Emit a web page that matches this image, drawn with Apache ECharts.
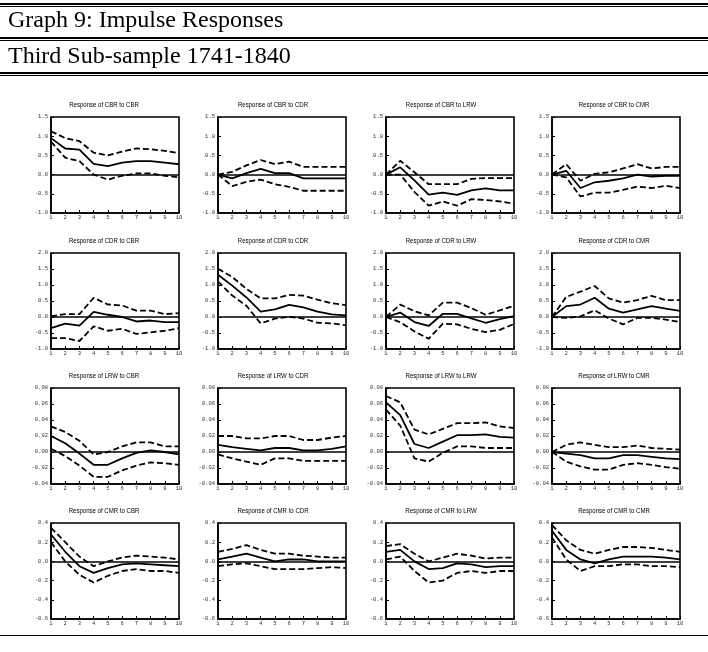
<!DOCTYPE html>
<html>
<head>
<meta charset="utf-8">
<script src="https://cdn.jsdelivr.net/npm/echarts@6/dist/echarts.min.js"></script>
<style>
  html, body { margin: 0; padding: 0; background: #fff; }
  #chart { width: 708px; height: 652px; }
</style>
</head>
<body>
<div id="chart"></div>
<script>
// Forecast horizon (periods after the shock)
const steps = ['1', '2', '3', '4', '5', '6', '7', '8', '9', '10'];
const variables = ['CBR', 'CDR', 'LRW', 'CMR'];

// Response of CBR
const resp_CBR_CBR  = [0.95, 0.68, 0.65, 0.28, 0.22, 0.31, 0.35, 0.35, 0.31, 0.27];
const upper_CBR_CBR = [1.13, 0.95, 0.87, 0.57, 0.50, 0.60, 0.68, 0.66, 0.62, 0.56];
const lower_CBR_CBR = [0.86, 0.44, 0.35, 0.00, -0.13, -0.03, 0.03, 0.03, -0.03, -0.07];

const resp_CBR_CDR  = [0, -0.10, 0.04, 0.15, 0.04, 0.04, -0.10, -0.10, -0.10, -0.10];
const upper_CBR_CDR = [0, 0.07, 0.24, 0.38, 0.27, 0.34, 0.20, 0.20, 0.20, 0.20];
const lower_CBR_CDR = [0, -0.30, -0.19, -0.13, -0.25, -0.32, -0.42, -0.42, -0.42, -0.42];

const resp_CBR_LRW  = [0, 0.19, -0.15, -0.52, -0.47, -0.53, -0.41, -0.36, -0.41, -0.41];
const upper_CBR_LRW = [0, 0.36, 0.06, -0.25, -0.25, -0.25, -0.11, -0.09, -0.09, -0.09];
const lower_CBR_LRW = [0, 0.00, -0.45, -0.81, -0.70, -0.81, -0.64, -0.66, -0.70, -0.76];

const resp_CBR_CMR  = [0, 0.10, -0.35, -0.20, -0.16, -0.10, 0.00, -0.05, -0.03, -0.03];
const upper_CBR_CMR = [0, 0.27, -0.16, 0.02, 0.06, 0.16, 0.27, 0.16, 0.20, 0.20];
const lower_CBR_CMR = [0, -0.07, -0.57, -0.47, -0.47, -0.40, -0.31, -0.35, -0.29, -0.35];

// Response of CDR
const resp_CDR_CBR  = [-0.35, -0.21, -0.27, 0.16, 0.07, 0.00, -0.14, -0.11, -0.16, -0.16];
const upper_CDR_CBR = [0.02, 0.09, 0.09, 0.60, 0.39, 0.36, 0.20, 0.20, 0.09, 0.12];
const lower_CDR_CBR = [-0.66, -0.66, -0.75, -0.29, -0.43, -0.37, -0.53, -0.48, -0.43, -0.35];

const resp_CDR_CDR  = [1.32, 0.98, 0.61, 0.17, 0.24, 0.38, 0.30, 0.17, 0.08, 0.05];
const upper_CDR_CDR = [1.51, 1.25, 0.88, 0.58, 0.58, 0.69, 0.67, 0.54, 0.43, 0.37];
const lower_CDR_CDR = [1.11, 0.67, 0.35, -0.20, -0.05, 0.01, -0.05, -0.18, -0.20, -0.26];

const resp_CDR_LRW  = [0, 0.14, -0.16, -0.28, 0.10, 0.10, -0.04, -0.18, -0.07, 0.03];
const upper_CDR_LRW = [0, 0.39, 0.18, 0.05, 0.45, 0.45, 0.28, 0.07, 0.21, 0.35];
const lower_CDR_LRW = [0, -0.16, -0.45, -0.68, -0.21, -0.23, -0.37, -0.47, -0.40, -0.22];

const resp_CDR_CMR  = [0, 0.34, 0.39, 0.60, 0.26, 0.14, 0.24, 0.34, 0.26, 0.19];
const upper_CDR_CMR = [0, 0.63, 0.79, 0.97, 0.58, 0.45, 0.53, 0.66, 0.53, 0.53];
const lower_CDR_CMR = [0, -0.03, 0.02, 0.21, -0.05, -0.23, -0.03, -0.03, -0.08, -0.16];

// Response of LRW
const resp_LRW_CBR  = [0.020, 0.011, -0.002, -0.016, -0.016, -0.008, -0.001, 0.002, 0.000, -0.003];
const upper_LRW_CBR = [0.032, 0.025, 0.014, -0.003, 0.000, 0.007, 0.012, 0.012, 0.007, 0.007];
const lower_LRW_CBR = [0.004, -0.005, -0.017, -0.031, -0.031, -0.023, -0.017, -0.013, -0.014, -0.016];

const resp_LRW_CDR  = [0.009, 0.006, 0.004, 0.002, 0.005, 0.005, 0.002, 0.002, 0.004, 0.007];
const upper_LRW_CDR = [0.020, 0.020, 0.017, 0.017, 0.020, 0.020, 0.015, 0.015, 0.018, 0.020];
const lower_LRW_CDR = [-0.003, -0.008, -0.012, -0.016, -0.008, -0.008, -0.011, -0.011, -0.011, -0.011];

const resp_LRW_LRW  = [0.062, 0.046, 0.010, 0.005, 0.013, 0.021, 0.021, 0.022, 0.019, 0.018];
const upper_LRW_LRW = [0.070, 0.062, 0.028, 0.022, 0.029, 0.036, 0.036, 0.037, 0.032, 0.030];
const lower_LRW_LRW = [0.053, 0.033, -0.008, -0.012, -0.001, 0.007, 0.007, 0.005, 0.005, 0.005];

const resp_LRW_CMR  = [0, -0.002, -0.004, -0.008, -0.008, -0.004, -0.004, -0.006, -0.008, -0.009];
const upper_LRW_CMR = [0, 0.009, 0.012, 0.009, 0.006, 0.006, 0.008, 0.005, 0.004, 0.003];
const lower_LRW_CMR = [0, -0.012, -0.018, -0.022, -0.022, -0.016, -0.014, -0.016, -0.019, -0.021];

// Response of CMR
const resp_CMR_CBR  = [0.28, 0.10, -0.05, -0.12, -0.07, -0.03, -0.02, -0.03, -0.04, -0.05];
const upper_CMR_CBR = [0.35, 0.20, 0.05, -0.05, 0.00, 0.04, 0.06, 0.05, 0.04, 0.02];
const lower_CMR_CBR = [0.20, 0.00, -0.14, -0.22, -0.15, -0.10, -0.08, -0.10, -0.10, -0.12];

const resp_CMR_CDR  = [0.02, 0.05, 0.08, 0.04, 0.00, 0.02, 0.02, 0.00, 0.00, 0.00];
const upper_CMR_CDR = [0.10, 0.13, 0.17, 0.12, 0.08, 0.08, 0.06, 0.05, 0.04, 0.04];
const lower_CMR_CDR = [-0.05, -0.03, -0.02, -0.05, -0.08, -0.08, -0.08, -0.07, -0.06, -0.07];

const resp_CMR_LRW  = [0.10, 0.12, 0.00, -0.08, -0.07, -0.02, -0.03, -0.06, -0.05, -0.05];
const upper_CMR_LRW = [0.16, 0.18, 0.08, 0.00, 0.04, 0.08, 0.06, 0.03, 0.04, 0.04];
const lower_CMR_LRW = [0.02, 0.05, -0.10, -0.22, -0.20, -0.12, -0.10, -0.12, -0.10, -0.10];

const resp_CMR_CMR  = [0.32, 0.12, 0.02, -0.02, 0.02, 0.05, 0.05, 0.05, 0.04, 0.02];
const upper_CMR_CMR = [0.38, 0.22, 0.12, 0.08, 0.12, 0.15, 0.15, 0.14, 0.12, 0.10];
const lower_CMR_CMR = [0.25, 0.02, -0.10, -0.05, -0.05, -0.03, -0.03, -0.05, -0.05, -0.06];

// Value-axis ticks for each responding variable (one row of panels each)
const yTicks_CBR = [-1.0, -0.5, 0.0, 0.5, 1.0, 1.5];
const yTicks_CDR = [-1.0, -0.5, 0.0, 0.5, 1.0, 1.5, 2.0];
const yTicks_LRW = [-0.04, -0.02, 0.00, 0.02, 0.04, 0.06, 0.08];
const yTicks_CMR = [-0.6, -0.4, -0.2, 0.0, 0.2, 0.4];

const responses = {
  CBR: { CBR: [resp_CBR_CBR, upper_CBR_CBR, lower_CBR_CBR], CDR: [resp_CBR_CDR, upper_CBR_CDR, lower_CBR_CDR],
         LRW: [resp_CBR_LRW, upper_CBR_LRW, lower_CBR_LRW], CMR: [resp_CBR_CMR, upper_CBR_CMR, lower_CBR_CMR] },
  CDR: { CBR: [resp_CDR_CBR, upper_CDR_CBR, lower_CDR_CBR], CDR: [resp_CDR_CDR, upper_CDR_CDR, lower_CDR_CDR],
         LRW: [resp_CDR_LRW, upper_CDR_LRW, lower_CDR_LRW], CMR: [resp_CDR_CMR, upper_CDR_CMR, lower_CDR_CMR] },
  LRW: { CBR: [resp_LRW_CBR, upper_LRW_CBR, lower_LRW_CBR], CDR: [resp_LRW_CDR, upper_LRW_CDR, lower_LRW_CDR],
         LRW: [resp_LRW_LRW, upper_LRW_LRW, lower_LRW_LRW], CMR: [resp_LRW_CMR, upper_LRW_CMR, lower_LRW_CMR] },
  CMR: { CBR: [resp_CMR_CBR, upper_CMR_CBR, lower_CMR_CBR], CDR: [resp_CMR_CDR, upper_CMR_CDR, lower_CMR_CDR],
         LRW: [resp_CMR_LRW, upper_CMR_LRW, lower_CMR_LRW], CMR: [resp_CMR_CMR, upper_CMR_CMR, lower_CMR_CMR] }
};
const yTicks = { CBR: yTicks_CBR, CDR: yTicks_CDR, LRW: yTicks_LRW, CMR: yTicks_CMR };
const yDecimals = { CBR: 1, CDR: 1, LRW: 2, CMR: 1 };

// Panel layout
const colLeft = [51, 218, 386, 552];
const rowTop = [117, 253, 388, 523];
const titleShift = [-11, -9, -9, -2];
const plotW = 128;
const plotH = 96;

const grids = [], xAxes = [], yAxes = [], series = [], graphics = [];
const black = '#000';
const tickFont = { fontSize: 5.5, color: '#333', fontFamily: '"Liberation Mono", monospace' };

variables.forEach((resVar, r) => {
  variables.forEach((shockVar, c) => {
    const k = grids.length;
    const ticks = yTicks[resVar];
    const dec = yDecimals[resVar];
    grids.push({
      left: colLeft[c], top: rowTop[r], width: plotW, height: plotH,
      show: true, borderColor: black, borderWidth: 1.6, backgroundColor: 'transparent'
    });
    xAxes.push({
      type: 'category', gridIndex: k, data: steps, boundaryGap: false,
      axisLine: { show: true, onZero: false, lineStyle: { color: black, width: 1.6 } },
      axisTick: { show: true, inside: true, length: 3, interval: 0, lineStyle: { color: black, width: 1 } },
      axisLabel: Object.assign({ interval: 0, margin: 2 }, tickFont),
      splitLine: { show: false }
    });
    yAxes.push({
      type: 'value', gridIndex: k,
      min: ticks[0], max: ticks[ticks.length - 1], interval: ticks[1] - ticks[0],
      axisLine: { show: true, lineStyle: { color: black, width: 1.6 } },
      axisTick: { show: true, inside: true, length: 3, lineStyle: { color: black, width: 1 } },
      axisLabel: Object.assign({ margin: 3, formatter: v => (Math.abs(v) < 1e-9 ? 0 : v).toFixed(dec) }, tickFont),
      splitLine: { show: false }
    });
    const [resp, upper, lower] = responses[resVar][shockVar];
    const dashed = { color: black, width: 1.8, type: [6, 3] };
    series.push({
      type: 'line', xAxisIndex: k, yAxisIndex: k, data: upper, symbol: 'none',
      lineStyle: dashed, silent: true, animation: false
    });
    series.push({
      type: 'line', xAxisIndex: k, yAxisIndex: k, data: lower, symbol: 'none',
      lineStyle: dashed, silent: true, animation: false
    });
    series.push({
      type: 'line', xAxisIndex: k, yAxisIndex: k, data: resp, symbol: 'none',
      lineStyle: { color: black, width: 1.8, type: 'solid' }, silent: true, animation: false,
      markLine: {
        silent: true, symbol: 'none', label: { show: false }, animation: false,
        lineStyle: { color: black, width: 1.5, type: 'solid' },
        data: [{ yAxis: 0 }]
      }
    });
    // Panel title, set in a slightly condensed sans face
    graphics.push({
      type: 'text', x: colLeft[c] + plotW / 2 + titleShift[c], y: rowTop[r] - 12,
      scaleX: 0.82, scaleY: 1,
      style: {
        text: 'Response of ' + resVar + ' to ' + shockVar,
        align: 'center', verticalAlign: 'middle', textAlign: 'center', textVerticalAlign: 'middle',
        fontSize: 7.4, fontFamily: '"Liberation Sans", Arial, sans-serif', fill: black
      }
    });
  });
});

// Header box with the graph title rows
const rule = (y, h) => ({ type: 'rect', shape: { x: 0, y: y, width: 708, height: h }, style: { fill: black } });
graphics.push(rule(3, 2), rule(6, 1));
graphics.push(rule(37, 2), rule(40, 1));
graphics.push(rule(72, 2), rule(75, 1));
graphics.push(rule(635, 1));
const headerFont = { fontSize: 24, fontFamily: '"Liberation Serif", "Times New Roman", serif', fill: black, align: 'left', verticalAlign: 'middle', textAlign: 'left', textVerticalAlign: 'middle' };
graphics.push({ type: 'text', x: 8, y: 21, style: Object.assign({ text: 'Graph 9: Impulse Responses' }, headerFont) });
graphics.push({ type: 'text', x: 8, y: 57, style: Object.assign({ text: 'Third Sub-sample 1741-1840' }, headerFont) });

const chart = echarts.init(document.getElementById('chart'), null, { renderer: 'canvas' });
chart.setOption({
  animation: false,
  backgroundColor: '#fff',
  grid: grids,
  xAxis: xAxes,
  yAxis: yAxes,
  series: series,
  graphic: graphics
});
</script>
</body>
</html>
